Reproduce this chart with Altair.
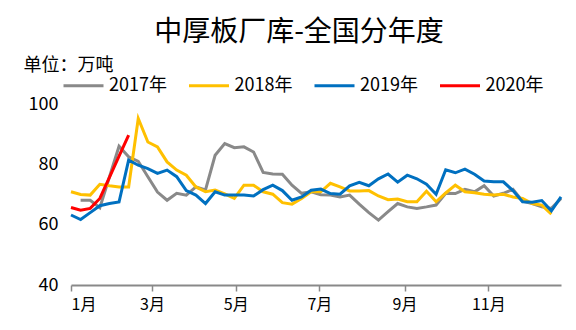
import altair as alt
import pandas as pd

FONT = "Noto Sans CJK SC"

years = ["2017年", "2018年", "2019年", "2020年"]
colors = ["#898989", "#FFC000", "#0070C0", "#FF0000"]
start_week = [1, 0, 0, 0]

v2017 = [68.1, 68.1, 65.6, 75.8, 86.0, 82.5, 81.0, 75.9, 70.8, 68.1,
         70.4, 69.8, 72.5, 71.5, 83.0, 86.9, 85.5, 85.8, 84.1, 77.3,
         76.8, 76.7, 73.1, 70.4, 70.9, 69.9, 69.8, 69.2, 69.8, 66.8,
         64.0, 61.5, 64.3, 67.0, 65.9, 65.4, 65.9, 66.5, 70.4, 70.3,
         71.7, 70.9, 72.9, 69.5, 70.4, 71.7, 67.8, 67.0, 65.9, 65.4, 68.7]
v2018 = [70.9, 70.0, 69.8, 73.4, 72.9, 72.5, 72.5, 95.2, 87.4, 85.8,
         80.8, 78.1, 76.4, 72.5, 70.9, 71.5, 70.2, 68.7, 73.1, 73.1,
         70.9, 70.1, 67.3, 66.8, 68.7, 70.9, 70.9, 73.7, 72.5, 71.2,
         71.2, 71.3, 69.5, 68.3, 68.5, 67.6, 67.6, 71.1, 67.6, 70.5,
         73.1, 70.9, 70.6, 70.1, 69.8, 70.1, 69.2, 68.7, 67.0, 66.5, 63.5]
v2019 = [63.2, 61.7, 64.0, 66.3, 67.0, 67.5, 81.4, 79.7, 78.6, 77.0,
         78.1, 75.9, 71.3, 69.8, 67.0, 70.9, 69.8, 69.8, 69.8, 69.5,
         71.6, 73.1, 71.3, 68.1, 69.2, 71.4, 71.8, 70.3, 70.1, 72.9,
         74.0, 72.9, 75.2, 76.8, 74.1, 76.4, 75.2, 73.4, 70.1, 78.2,
         77.2, 78.4, 76.7, 74.5, 74.2, 74.2, 71.3, 67.6, 67.4, 68.0, 64.6, 69.2]
v2020 = [65.7, 64.8, 65.4, 68.7, 75.7, 82.7, 89.7]

month_labels = ["1月", "3月", "5月", "7月", "9月", "11月"]
month_days = [0, 59, 120, 181, 243, 304]

series = [v2017, v2018, v2019, v2020]
rows = []
for yr, sw, vals in zip(years, start_week, series):
    for i, v in enumerate(vals):
        rows.append({"year": yr, "day": 7 * (sw + i), "value": v})
df = pd.DataFrame(rows)

label_expr = "''"
for d, lab in zip(reversed(month_days), reversed(month_labels)):
    label_expr = f"datum.value == {d} ? '{lab}' : ({label_expr})"

chart = alt.Chart(df).mark_line(strokeWidth=3).encode(
    x=alt.X("day:Q",
            scale=alt.Scale(domain=[0, 357], nice=False, zero=False),
            axis=alt.Axis(values=month_days, labelExpr=label_expr, title=None,
                          grid=False, domainColor="#898989", domainWidth=2,
                          tickColor="#898989", tickWidth=1.5, tickSize=6,
                          labelFontSize=16, labelColor="#000000", labelPadding=5,
                          labelFont=FONT)),
    y=alt.Y("value:Q",
            scale=alt.Scale(domain=[40, 100], nice=False, zero=False),
            axis=alt.Axis(values=[40, 60, 80, 100], grid=False, domain=False,
                          ticks=False, labelFontSize=18, labelPadding=13,
                          labelColor="#000000", labelFont=FONT,
                          title="单位：万吨", titleAngle=0, titleX=-48, titleY=-39,
                          titleAlign="left", titleBaseline="middle",
                          titleFontSize=18, titleFontWeight="normal",
                          titleColor="#000000", titleFont=FONT)),
    color=alt.Color("year:N",
                    scale=alt.Scale(domain=years, range=colors),
                    legend=alt.Legend(title=None, orient="none", legendX=-9,
                                      legendY=-40, direction="horizontal",
                                      symbolType="stroke", symbolSize=1600,
                                      symbolStrokeWidth=3, labelFontSize=18,
                                      labelFont=FONT, labelColor="#000000",
                                      labelOffset=4, columnPadding=15.5,
                                      padding=0)),
).properties(
    width=490,
    height=181,
    title=alt.TitleParams("中厚板厂库-全国分年度", fontSize=28, font=FONT,
                          fontWeight="normal", color="#000000",
                          anchor="middle", dx=-17, offset=9),
    autosize=alt.AutoSizeParams(type="none"),
    padding={"left": 71, "top": 104, "right": 15, "bottom": 45},
).configure_view(stroke=None)

chart.save("out.html", embed_options={"renderer": "svg", "actions": False})
